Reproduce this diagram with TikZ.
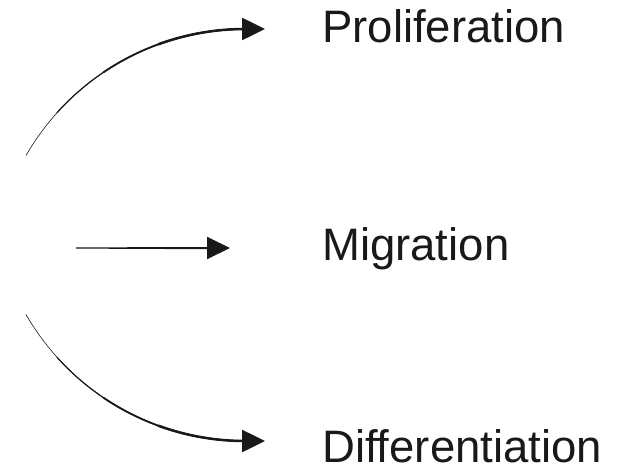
\documentclass[tikz,border=0pt]{standalone}
\usepackage{fontspec}
\setmainfont{Liberation Sans}
\usetikzlibrary{arrows.meta,calc}
\begin{document}
\begin{tikzpicture}[x=1pt,y=-1pt,
  label/.style={anchor=base west,inner sep=0pt,font=\fontsize{45.5}{50}\selectfont,text=black!90},
  head/.style={-{Triangle[length=23pt,width=22pt]},line width=2.6pt,draw=black!90},
  curve/.style={draw=black!90,line cap=round}]
\useasboundingbox (0,0) rectangle (621,471);
% labels
\node[label] (prolif) at (322,42) {Proliferation};
\node[label] (migr) at (322,260) {Migration};
\node[label] (diff) at (322,462) {Differentiation};
% arrow ends
\coordinate (tsrc) at (26,155.5);
\coordinate (msrc) at (76,248);
\coordinate (bsrc) at (26,314.5);
\coordinate (ttip) at (265,29);
\coordinate (mtip) at (230,248);
\coordinate (btip) at (265,441);
% top curved arrow (tapered, circle centre (245,282), r=253)
\draw[curve,line width=0.6pt] (tsrc) arc[start angle=210,end angle=270,radius=253];
\draw[curve,line width=1.2pt] ($(245,282)+(222:253)$) arc[start angle=222,end angle=270,radius=253];
\draw[curve,line width=1.8pt] ($(245,282)+(236:253)$) arc[start angle=236,end angle=270,radius=253];
\draw[curve,line width=2.5pt] ($(245,282)+(250:253)$) arc[start angle=250,end angle=270,radius=253];
\draw[head] (243,29) -- (ttip);
% middle arrow
\fill[black!90] (msrc) ++(0,-0.6) -- (210,247) -- (210,249.2) -- (76,248.6) -- cycle;
\draw[head,line width=2pt] (208,248) -- (mtip);
% bottom curved arrow (tapered, circle centre (245,188), r=253)
\draw[curve,line width=0.6pt] (bsrc) arc[start angle=150,end angle=90,radius=253];
\draw[curve,line width=1.2pt] ($(245,188)+(138:253)$) arc[start angle=138,end angle=90,radius=253];
\draw[curve,line width=1.8pt] ($(245,188)+(124:253)$) arc[start angle=124,end angle=90,radius=253];
\draw[curve,line width=2.5pt] ($(245,188)+(110:253)$) arc[start angle=110,end angle=90,radius=253];
\draw[head] (243,441) -- (btip);
\end{tikzpicture}
\end{document}
